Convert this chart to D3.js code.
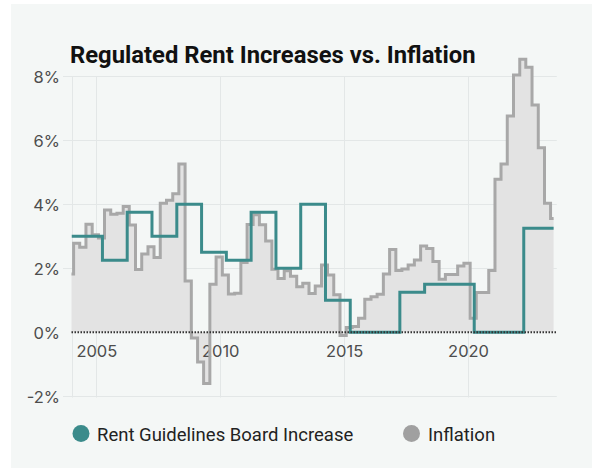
<!DOCTYPE html>
<html>
<head>
<meta charset="utf-8">
<script src="https://cdn.jsdelivr.net/npm/d3@7"></script>
<style>
  html, body { margin: 0; padding: 0; background: #ffffff; }
  svg { display: block; }
  text { font-family: Roboto, "Noto Sans", sans-serif; }
  .tick text { font-family: Inter, Roboto, sans-serif; }
</style>
</head>
<body>
<svg id="chart" width="592" height="468"></svg>
<script>
// ---- data ----
const titleText = "Regulated Rent Increases vs. Inflation";
const seriesNames = ["Rent Guidelines Board Increase", "Inflation"];

const yTickValues = [-2, 0, 2, 4, 6, 8];
const yTickLabels = ["-2%", "0%", "2%", "4%", "6%", "8%"];
const xTickYears = ["2005", "2010", "2015", "2020"];

// Inflation, one value per quarter (Feb / May / Aug / Nov readings), starting Nov 2003
const inflationFirstMonth = "2003-11";
const inflationValues = [
  1.82,
  2.78, 2.66, 3.38, 3.05,   // 2004
  2.95, 3.82, 3.69, 3.72,   // 2005
  3.93, 3.35, 1.96, 2.45,   // 2006
  2.67, 2.34, 4.03, 4.13,   // 2007
  4.33, 5.26, 1.60, -0.18,  // 2008
  -0.93, -1.60, 1.50, 2.35, // 2009
  1.79, 1.20, 1.22, 2.18,   // 2010
  3.37, 3.67, 3.36, 2.85,   // 2011
  1.97, 1.68, 1.92, 1.75,   // 2012
  1.42, 1.53, 1.21, 1.45,   // 2013
  2.10, 1.79, 1.17, -0.10,  // 2014
  0.15, 0.18, 0.44, 1.03,   // 2015
  1.11, 1.19, 1.82, 2.59,   // 2016
  1.93, 1.98, 2.10, 2.26,   // 2017
  2.70, 2.62, 2.21, 1.66,   // 2018
  1.81, 1.81, 2.07, 2.16,   // 2019
  0.44, 1.24, 1.24, 1.93,   // 2020
  4.78, 5.26, 6.76, 8.04,   // 2021
  8.53, 8.28, 7.10, 5.77,   // 2022
  4.03, 3.56                // 2023
];

// Rent Guidelines Board increase, by the month each guideline takes effect
const rgbStartMonths = [
  "2004-01", "2005-04", "2006-04", "2007-04", "2008-04", "2009-04", "2010-04",
  "2011-04", "2012-04", "2013-04", "2014-04", "2015-04", "2016-04", "2017-04",
  "2018-04", "2019-04", "2020-04", "2021-04", "2022-04"
];
const rgbValues = [
  3.0, 2.25, 3.75, 3.0, 4.0, 2.5, 2.25,
  3.75, 2.0, 4.0, 1.0, 0, 0, 1.25,
  1.5, 1.5, 0, 0, 3.25
];

const seriesEnd = "2023-06-15";
const domainStart = "2004-01-01";
const domainEnd = "2023-08-01";

// ---- setup ----
const W = 592, H = 468;
const teal = "#3b8b8b";
const grayLine = "#a8a8a8";
const grayFill = "#e3e3e3";
const gridColor = "#e3e7e7";

const parseMonth = d3.utcParse("%Y-%m");
const parseDay = d3.utcParse("%Y-%m-%d");
const parseYear = d3.utcParse("%Y");

const x = d3.scaleUtc()
  .domain([parseDay(domainStart), parseDay(domainEnd)])
  .range([71.5, 556.8]);
const y = d3.scaleLinear().domain([-2, 8]).range([396.3, 76.3]);

const svg = d3.select("#chart");

// page panel
svg.append("rect").attr("x", 11).attr("y", 4).attr("width", W - 11).attr("height", H - 4)
  .attr("fill", "#f4f7f6");

// title
svg.append("text").attr("x", 70).attr("y", 63.3)
  .attr("font-size", 23.8).attr("font-weight", 700).attr("fill", "#111")
  .text(titleText);

// grid
const grid = svg.append("g");
grid.selectAll("line.h").data(yTickValues.filter(v => v !== 0)).join("line")
  .attr("x1", 63).attr("x2", 556.8)
  .attr("y1", d => Math.round(y(d)) + 0.5).attr("y2", d => Math.round(y(d)) + 0.5)
  .attr("stroke", gridColor).attr("stroke-width", 1);
const vGridDates = [parseDay(domainStart)].concat(xTickYears.map(s => parseYear(s)));
grid.selectAll("line.v").data(vGridDates).join("line")
  .attr("x1", d => Math.round(x(d)) + 0.5).attr("x2", d => Math.round(x(d)) + 0.5)
  .attr("y1", y(8)).attr("y2", 397.5)
  .attr("stroke", gridColor).attr("stroke-width", 1);

// series points
const inflStart = parseMonth(inflationFirstMonth);
const inflation = inflationValues.map((v, i) => ({ date: d3.utcMonth.offset(inflStart, 3 * i), value: v }));
inflation.push({ date: parseDay(seriesEnd), value: inflationValues[inflationValues.length - 1] });

const rgb = rgbStartMonths.map((m, i) => ({ date: parseMonth(m), value: rgbValues[i] }));
rgb.push({ date: parseDay(seriesEnd), value: rgbValues[rgbValues.length - 1] });

// clip to plot range
svg.append("defs").append("clipPath").attr("id", "plotClip")
  .append("rect").attr("x", x.range()[0]).attr("y", 0)
  .attr("width", x.range()[1] - x.range()[0]).attr("height", H);

const area = d3.area().curve(d3.curveStepAfter)
  .x(d => x(d.date)).y0(y(0)).y1(d => y(d.value));
const line = d3.line().curve(d3.curveStepAfter)
  .x(d => x(d.date)).y(d => y(d.value));

// inflation area fill (under the axis labels)
svg.append("g").attr("clip-path", "url(#plotClip)")
  .append("path").datum(inflation).attr("d", area).attr("fill", grayFill);

// y axis labels
const yAxis = d3.axisLeft(y).tickValues(yTickValues)
  .tickFormat((d, i) => yTickLabels[i]).tickSize(0).tickPadding(0);
const yg = svg.append("g").attr("transform", "translate(60,0)").call(yAxis);
yg.select(".domain").remove();
yg.attr("font-family", null).attr("font-size", null);
yg.selectAll("text").attr("font-size", 16.5).attr("fill", "#4d4d4d").attr("dy", "0.36em");

// x axis labels
const xAxis = d3.axisBottom(x).tickValues(xTickYears.map(s => parseYear(s)))
  .tickFormat((d, i) => xTickYears[i]).tickSize(0).tickPadding(0);
const xg = svg.append("g").attr("transform", "translate(0,356.5)").call(xAxis);
xg.select(".domain").remove();
xg.attr("font-family", null).attr("font-size", null);
xg.selectAll("text").attr("font-size", 16.5).attr("fill", "#4d4d4d").attr("dy", 0).attr("y", 0);

// lines
const plot = svg.append("g").attr("clip-path", "url(#plotClip)");
plot.append("path").datum(inflation).attr("d", line)
  .attr("fill", "none").attr("stroke", grayLine).attr("stroke-width", 3)
  .attr("stroke-linejoin", "miter");
plot.append("path").datum(rgb).attr("d", line)
  .attr("fill", "none").attr("stroke", teal).attr("stroke-width", 3)
  .attr("stroke-linejoin", "miter");

// zero baseline
svg.append("line").attr("x1", x.range()[0]).attr("x2", x.range()[1])
  .attr("y1", y(0)).attr("y2", y(0))
  .attr("stroke", "#333").attr("stroke-width", 2).attr("stroke-dasharray", "1.5,1.5");

// legend
const legend = svg.append("g");
const legendItems = [
  { name: seriesNames[0], color: teal, cx: 81, tx: 97 },
  { name: seriesNames[1], color: "#a0a0a0", cx: 411.5, tx: 428 }
];
const li = legend.selectAll("g").data(legendItems).join("g");
li.append("circle").attr("cx", d => d.cx).attr("cy", 433.5).attr("r", 8.5).attr("fill", d => d.color);
li.append("text").attr("x", d => d.tx).attr("y", 440.5)
  .attr("font-size", 18.5).attr("fill", "#222").text(d => d.name);
</script>
</body>
</html>
